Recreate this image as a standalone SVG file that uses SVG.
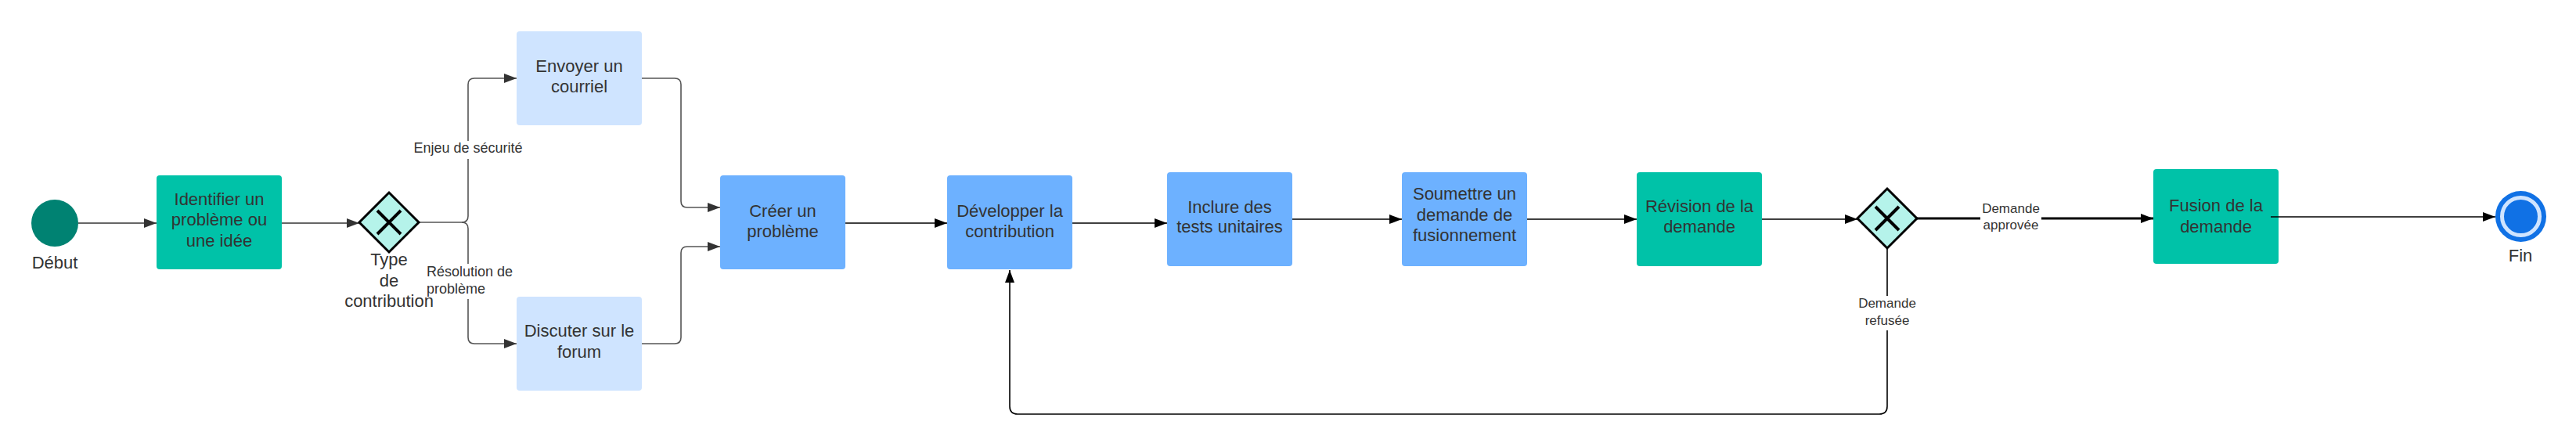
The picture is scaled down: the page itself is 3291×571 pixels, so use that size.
<svg xmlns="http://www.w3.org/2000/svg" width="3291" height="571" viewBox="0 0 3291 571">
<style>
text{font-family:"Liberation Sans",Arial,sans-serif;fill:#333333;text-anchor:middle}
.t{font-size:22px}
.l{font-size:18px}
.s{font-size:17px}
.teal{fill:#00C2A8}
.blue{fill:#6DB1FF}
.lblue{fill:#CFE4FF}
.gw{fill:#B5F3EA;stroke:#000;stroke-width:3}
.gx{stroke:#000;stroke-width:4}
.c{fill:none;stroke:#333;stroke-width:1.6}
.cg{fill:none;stroke:#555;stroke-width:1.6}
.ck{fill:none;stroke:#000;stroke-width:1.6}
.bg{fill:#fff}
</style>
<defs>
<marker id="a" markerWidth="16" markerHeight="12" refX="16" refY="6" orient="auto" markerUnits="userSpaceOnUse"><path d="M0,0 L16,6 L0,12 z" fill="#333"/></marker>
<marker id="ak" markerWidth="16" markerHeight="12" refX="16" refY="6" orient="auto" markerUnits="userSpaceOnUse"><path d="M0,0 L16,6 L0,12 z" fill="#000"/></marker>
</defs>
<rect width="3291" height="571" fill="#fff"/>
<g id="connectors">
<path class="c" d="M100,285 L200,285" marker-end="url(#a)"/>
<path class="c" d="M360,285 L459,285" marker-end="url(#a)"/>
<path class="cg" d="M536,284 L590,284 Q598,284 598,276 L598,108 Q598,100 606,100 L660,100" marker-end="url(#a)"/>
<path class="cg" d="M590,284 Q598,284 598,292 L598,431 Q598,439 606,439 L660,439" marker-end="url(#a)"/>
<path class="cg" d="M820,100 L862,100 Q870,100 870,108 L870,257 Q870,265 878,265 L920,265" marker-end="url(#a)"/>
<path class="cg" d="M820,439 L862,439 Q870,439 870,431 L870,323 Q870,315 878,315 L920,315" marker-end="url(#a)"/>
<path class="ck" d="M1080,285 L1210,285" marker-end="url(#ak)"/>
<path class="ck" d="M1370,285 L1491,285" marker-end="url(#ak)"/>
<path class="ck" d="M1651,280 L1791,280" marker-end="url(#ak)"/>
<path class="ck" d="M1951,280 L2091,280" marker-end="url(#ak)"/>
<path class="ck" d="M2251,280 L2373,280" marker-end="url(#ak)"/>
<path fill="none" stroke="#000" stroke-width="3" d="M2449,279 L2751,279" marker-end="url(#ak)"/>
<path class="ck" d="M2411,317 L2411,519 Q2411,529 2401,529 L1300,529 Q1290,529 1290,519 L1290,345" marker-end="url(#ak)"/>
<rect class="bg" x="528" y="180" width="141" height="23"/>
<text class="l" x="598" y="195">Enjeu de sécurité</text>
<rect class="bg" x="543" y="337" width="113" height="45"/>
<text class="l" x="545" y="353" style="text-anchor:start">Résolution de</text>
<text class="l" x="545" y="375" style="text-anchor:start">problème</text>
<rect class="bg" x="2530" y="256" width="78" height="44"/>
<text class="s" x="2569" y="272">Demande</text>
<text class="s" x="2569" y="293">approvée</text>
<rect class="bg" x="2371" y="378" width="80" height="44"/>
<text class="s" x="2411" y="393">Demande</text>
<text class="s" x="2411" y="415">refusée</text>
</g>
<g id="debut">
<circle cx="70" cy="285" r="30" fill="#008272"/>
<text class="t" x="70" y="343">Début</text>
</g>
<g id="identifier">
<rect class="teal" x="200" y="224" width="160" height="120" rx="4"/>
<text class="t" x="280" y="262">Identifier un</text>
<text class="t" x="280" y="288">problème ou</text>
<text class="t" x="280" y="315">une idée</text>
</g>
<g id="gateway1">
<path class="gw" d="M497,246 L535,284 L497,322 L459,284 z"/>
<path class="gx" d="M482,269 L512,299 M512,269 L482,299"/>
<text class="t" x="497" y="339">Type</text>
<text class="t" x="497" y="366">de</text>
<text class="t" x="497" y="392">contribution</text>
</g>
<g id="envoyer">
<rect class="lblue" x="660" y="40" width="160" height="120" rx="4"/>
<text class="t" x="740" y="92">Envoyer un</text>
<text class="t" x="740" y="118">courriel</text>
</g>
<g id="discuter">
<rect class="lblue" x="660" y="379" width="160" height="120" rx="4"/>
<text class="t" x="740" y="430">Discuter sur le</text>
<text class="t" x="740" y="457">forum</text>
</g>
<g id="creer">
<rect class="blue" x="920" y="224" width="160" height="120" rx="4"/>
<text class="t" x="1000" y="277">Créer un</text>
<text class="t" x="1000" y="303">problème</text>
</g>
<g id="developper">
<rect class="blue" x="1210" y="224" width="160" height="120" rx="4"/>
<text class="t" x="1290" y="277">Développer la</text>
<text class="t" x="1290" y="303">contribution</text>
</g>
<g id="inclure">
<rect class="blue" x="1491" y="220" width="160" height="120" rx="4"/>
<text class="t" x="1571" y="272">Inclure des</text>
<text class="t" x="1571" y="297">tests unitaires</text>
</g>
<g id="soumettre">
<rect class="blue" x="1791" y="220" width="160" height="120" rx="4"/>
<text class="t" x="1871" y="255">Soumettre un</text>
<text class="t" x="1871" y="282">demande de</text>
<text class="t" x="1871" y="308">fusionnement</text>
</g>
<g id="revision">
<rect class="teal" x="2091" y="220" width="160" height="120" rx="4"/>
<text class="t" x="2171" y="271">Révision de la</text>
<text class="t" x="2171" y="297">demande</text>
</g>
<g id="gateway2">
<path class="gw" d="M2411,241 L2449,279 L2411,317 L2373,279 z"/>
<path class="gx" d="M2396,264 L2426,294 M2426,264 L2396,294"/>
</g>
<g id="fusion">
<rect class="teal" x="2751" y="216" width="160" height="121" rx="4"/>
<text class="t" x="2831" y="270">Fusion de la</text>
<text class="t" x="2831" y="297">demande</text>
<path class="ck" d="M2901,277 L3188,277" marker-end="url(#ak)"/>
</g>
<g id="fin">
<circle cx="3220.5" cy="276.5" r="32.5" fill="#1071E5"/>
<circle cx="3220.5" cy="276.5" r="24" fill="#1071E5" stroke="#CFE4FF" stroke-width="5"/>
<text class="t" x="3220" y="334">Fin</text>
</g>
</svg>
